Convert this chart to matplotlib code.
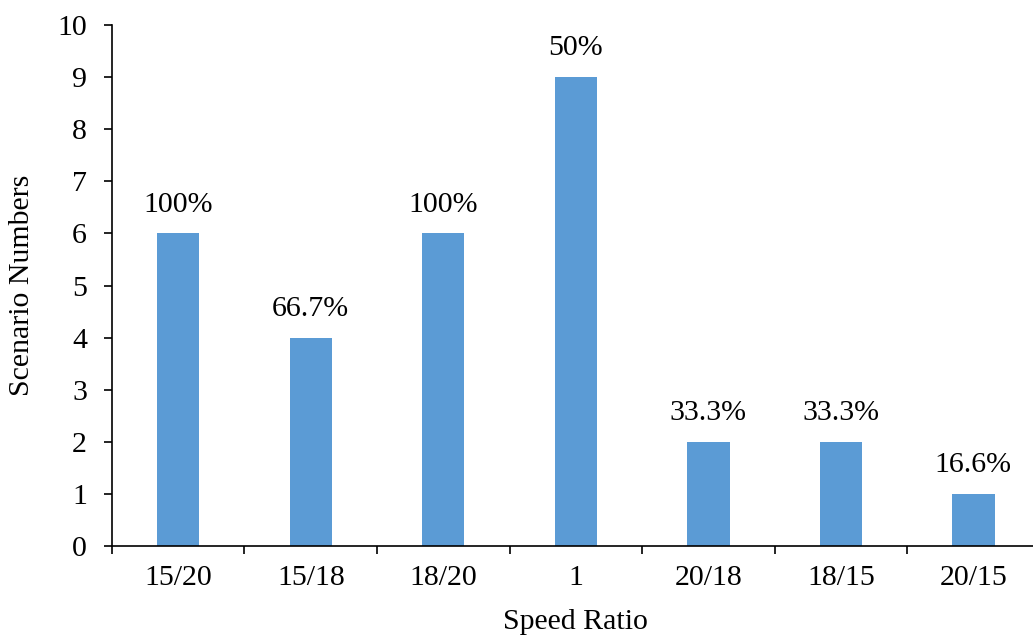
import matplotlib.pyplot as plt
import numpy as np

plt.rcParams['font.family'] = ['Liberation Serif', 'DejaVu Serif']

ratios = ["15/20", "15/18", "18/20", "1", "20/18", "18/15", "20/15"]
scenarios = [6, 4, 6, 9, 2, 2, 1]
shares = ["100%", "66.7%", "100%", "50%", "33.3%", "33.3%", "16.6%"]

FS = 21.5

fig = plt.figure(figsize=(10.33, 6.36), dpi=100)
ax = fig.add_axes([0.1084, 0.1415, 0.898, 0.819])

x = np.arange(len(ratios))
bars = ax.bar(x, scenarios, width=0.32, color="#5B9BD5")

for b, txt in zip(bars, shares):
    ax.text(b.get_x() + b.get_width() / 2, b.get_height() + 0.42, txt,
            ha="center", va="baseline", fontsize=FS)

ax.set_xlim(-0.5, len(ratios) - 0.5)
ax.set_ylim(0, 10)
ax.set_yticks(range(0, 11))
ax.tick_params(axis="y", labelsize=FS, direction="out", length=6, width=1.2, pad=12)

# category labels sit between boundary ticks
ax.set_xticks(np.arange(-0.5, len(ratios), 1.0))
ax.set_xticklabels([])
ax.set_xticks(x, minor=True)
ax.set_xticklabels(ratios, minor=True, fontsize=FS)
ax.tick_params(axis="x", which="major", direction="out", length=6, width=1.2)
ax.tick_params(axis="x", which="minor", length=0, pad=14)

for s in ["top", "right"]:
    ax.spines[s].set_visible(False)
for s in ["left", "bottom"]:
    ax.spines[s].set_linewidth(1.2)

ax.set_xlabel("Speed Ratio", fontsize=FS, va="center")
ax.xaxis.set_label_coords(0.5, -0.146)
ax.set_ylabel("Scenario Numbers", fontsize=FS, va="center")
ax.yaxis.set_label_coords(-0.097, 0.5)

fig.savefig("out.png", dpi=100)
